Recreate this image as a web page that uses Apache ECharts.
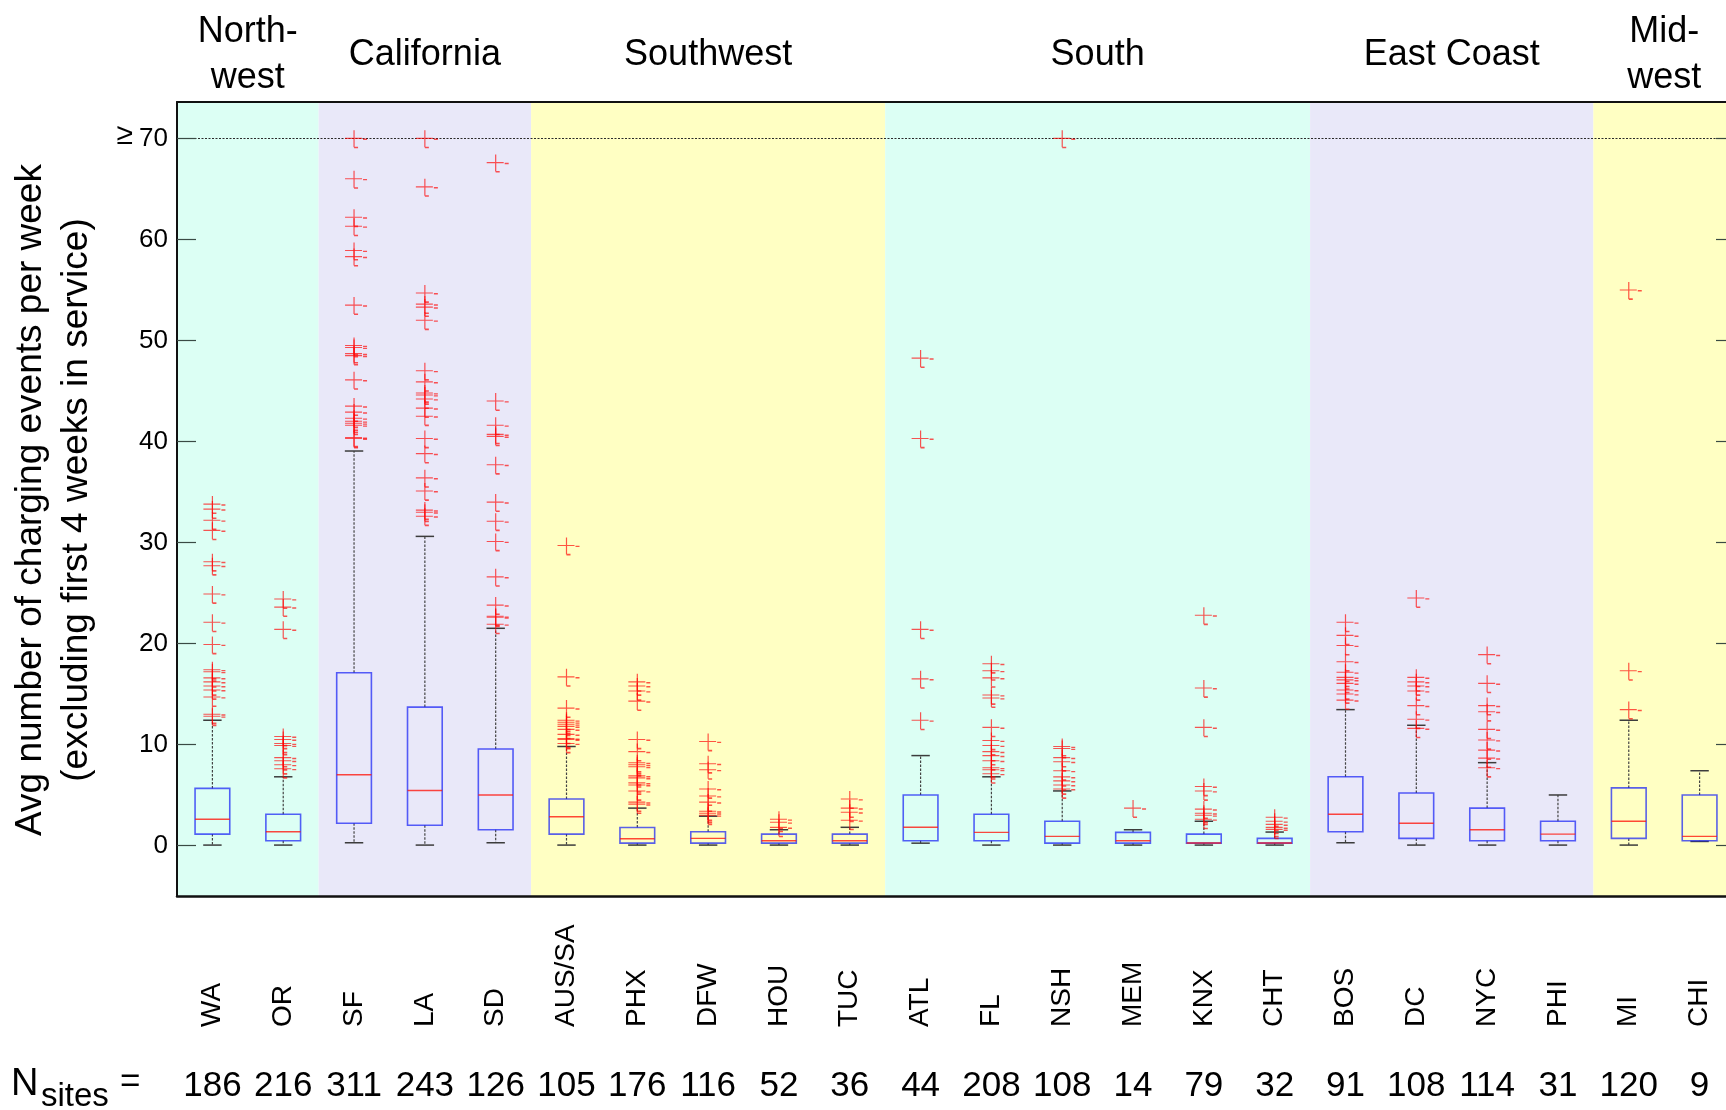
<!DOCTYPE html>
<html>
<head>
<meta charset="utf-8">
<title>Charging events per week by metro area</title>
<script src="https://cdn.jsdelivr.net/npm/echarts@6/dist/echarts.min.js"></script>
<style>
  html, body { margin: 0; padding: 0; background: #fff; }
  #chart { width: 1726px; height: 1110px; }
</style>
</head>
<body>
<div id="chart"></div>
<script>
// Metro areas, in plotting order
const sites = ['WA','OR','SF','LA','SD','AUS/SA','PHX','DFW','HOU','TUC','ATL','FL','NSH','MEM','KNX','CHT','BOS','DC','NYC','PHI','MI','CHI'];

// Number of sites per metro area
const siteCounts = [186,216,311,243,126,105,176,116,52,36,44,208,108,14,79,32,91,108,114,31,120,9];

// Box statistics per area: [lower whisker, Q1, median, Q3, upper whisker]
const boxWA  = [0.04, 1.13, 2.6, 5.65, 12.4];
const boxOR  = [0.04, 0.47, 1.36, 3.1, 6.8];
const boxSF  = [0.27, 2.2, 7.0, 17.1, 39.05];
const boxLA  = [0.04, 2.0, 5.45, 13.7, 30.6];
const boxSD  = [0.27, 1.56, 5.0, 9.55, 21.5];
const boxAUS = [0.04, 1.13, 2.85, 4.6, 9.8];
const boxPHX = [0.04, 0.23, 0.66, 1.78, 3.7];
const boxDFW = [0.04, 0.23, 0.7, 1.36, 2.9];
const boxHOU = [0.04, 0.23, 0.47, 1.13, 1.56];
const boxTUC = [0.04, 0.23, 0.47, 1.13, 1.8];
const boxATL = [0.23, 0.47, 1.8, 5.0, 8.9];
const boxFL  = [0.04, 0.47, 1.3, 3.1, 6.8];
const boxNSH = [0.04, 0.23, 0.9, 2.4, 5.4];
const boxMEM = [0.04, 0.23, 0.47, 1.3, 1.56];
const boxKNX = [0.04, 0.23, 0.25, 1.13, 2.4];
const boxCHT = [0.04, 0.23, 0.25, 0.7, 1.33];
const boxBOS = [0.27, 1.36, 3.1, 6.8, 13.45];
const boxDC  = [0.04, 0.7, 2.2, 5.2, 11.9];
const boxNYC = [0.04, 0.47, 1.56, 3.7, 8.2];
const boxPHI = [0.04, 0.47, 1.13, 2.4, 5.0];
const boxMI  = [0.04, 0.7, 2.4, 5.7, 12.4];
const boxCHI = [0.4, 0.47, 0.9, 5.0, 7.4];

// Outliers per area (values of 70 and above are drawn at 70)
const outWA  = [33.8, 33.3, 32.2, 31.2, 28.1, 27.7, 24.9, 22.1, 19.9, 17.4, 17.2, 16.6, 16.2, 15.8, 15.4, 14.7, 13.0, 12.8];
const outOR  = [24.4, 23.6, 21.4, 10.8, 10.5, 10.1, 9.9, 8.7, 8.4, 8.0, 7.6];
const outSF  = [70, 66.0, 62.2, 61.3, 58.9, 58.3, 53.5, 49.5, 49.3, 48.7, 48.5, 46.1, 43.5, 42.9, 42.3, 42.0, 41.8, 41.6, 40.4, 40.3];
const outLA  = [70, 65.2, 54.7, 53.6, 53.3, 52.0, 47.0, 45.9, 44.8, 44.6, 44.2, 43.3, 42.5, 40.3, 38.8, 36.4, 35.1, 33.2, 33.0, 32.6];
const outSD  = [67.6, 44.0, 41.6, 40.7, 40.5, 37.7, 34.0, 32.1, 30.1, 26.6, 23.8, 22.7, 22.6, 21.9];
const outAUS = [29.7, 16.7, 13.6, 12.4, 12.2, 12.0, 11.8, 11.5, 11.0, 10.6, 10.5, 10.1];
const outPHX = [16.2, 15.8, 15.3, 14.3, 10.5, 9.3, 8.2, 8.0, 7.8, 6.9, 6.7, 6.2, 6.0, 5.4, 4.3, 4.1];
const outDFW = [10.3, 8.1, 7.5, 5.6, 4.9, 4.3, 3.4, 3.2, 3.0];
const outHOU = [2.6, 2.3, 1.8];
const outTUC = [4.6, 3.7, 3.3, 2.5];
const outATL = [48.25, 40.3, 21.4, 16.5, 12.4];
const outFL  = [18.0, 17.3, 16.6, 14.9, 14.6, 11.7, 10.4, 9.9, 9.3, 8.9, 8.4, 7.7, 7.5, 7.1];
const outNSH = [70, 9.8, 9.6, 8.7, 8.3, 7.4, 6.8, 6.4, 6.0, 5.6];
const outMEM = [3.7];
const outKNX = [22.8, 15.6, 11.7, 5.85, 5.4, 3.6, 3.2, 3.0, 2.6];
const outCHT = [2.8, 2.4, 2.1, 1.8, 1.6];
const outBOS = [22.1, 20.8, 19.8, 18.2, 17.15, 16.65, 16.4, 16.05, 15.4, 15.0, 14.4];
const outDC  = [24.5, 16.65, 16.2, 15.8, 15.3, 13.85, 12.5, 11.6];
const outNYC = [18.9, 16.05, 13.85, 13.25, 11.5, 10.45, 9.45, 8.65, 7.7];
const outPHI = [];
const outMI  = [55.0, 17.3, 13.45];
const outCHI = [];

// Y-axis tick values; the top one reads "≥70"
const yTicks = [0, 10, 20, 30, 40, 50, 60, 70];
const capValue = 70;

// Regions grouping the areas
const regionNames = ['North-\nwest', 'California', 'Southwest', 'South', 'East Coast', 'Mid-\nwest'];
const regionFirst = ['WA', 'SF', 'AUS/SA', 'ATL', 'BOS', 'MI'];
const regionLast  = ['OR', 'SD', 'TUC', 'CHT', 'PHI', 'CHI'];

// ---- assembly ----
const boxStats = [boxWA, boxOR, boxSF, boxLA, boxSD, boxAUS, boxPHX, boxDFW, boxHOU, boxTUC,
  boxATL, boxFL, boxNSH, boxMEM, boxKNX, boxCHT, boxBOS, boxDC, boxNYC, boxPHI, boxMI, boxCHI];
const outliers = [outWA, outOR, outSF, outLA, outSD, outAUS, outPHX, outDFW, outHOU, outTUC,
  outATL, outFL, outNSH, outMEM, outKNX, outCHT, outBOS, outDC, outNYC, outPHI, outMI, outCHI];

const boxData = boxStats.map((s, i) => [i].concat(s));
const outlierData = [];
outliers.forEach((vals, i) => vals.forEach(v => outlierData.push([i, v])));
const regionData = regionNames.map((n, i) => [sites.indexOf(regionFirst[i]), sites.indexOf(regionLast[i])]);

const FONT = '"Liberation Sans", Arial, Helvetica, sans-serif';
const bandFills = ['#dcfff4', '#e9e8f9', '#ffffc3', '#dcfff4', '#e9e8f9', '#ffffc3'];

// Cross-shaped outlier marker (with the little offset dashes of the original renderer)
const plusPath = 'path://M0,7.5H17V8.6H0Z M8.4,0H9.6V17H8.4Z M18,8.2H22V9.6H18Z M9,16.4H13V18H9Z';

const chart = echarts.init(document.getElementById('chart'), null, { renderer: 'canvas' });

const option = {
  animation: false,
  backgroundColor: '#ffffff',
  textStyle: { fontFamily: FONT },
  grid: {
    left: 177, top: 102, width: 1558, height: 794,
    containLabel: false, outerBoundsMode: 'none'
  },
  xAxis: [
    {
      type: 'category', data: sites, position: 'bottom', boundaryGap: true, z: 10,
      axisLine: { show: true, onZero: false, lineStyle: { color: '#111', width: 2.5 } },
      axisTick: { show: false },
      splitLine: { show: false },
      axisLabel: {
        interval: 0, rotate: 90, align: 'left', verticalAlign: 'middle',
        margin: 131, fontSize: 28, color: '#000', fontFamily: FONT, hideOverlap: false
      }
    },
    {
      type: 'category', data: siteCounts.map(String), position: 'bottom', boundaryGap: true,
      axisLine: { show: false, onZero: false }, axisTick: { show: false }, splitLine: { show: false },
      axisLabel: {
        interval: 0, margin: 190, verticalAlign: 'middle', fontSize: 35,
        color: '#000', fontFamily: FONT, hideOverlap: false
      }
    },
    {
      type: 'category', data: sites, position: 'top', boundaryGap: true, z: 10,
      axisLine: { show: true, onZero: false, lineStyle: { color: '#111', width: 2 } },
      axisTick: { show: false }, axisLabel: { show: false }, splitLine: { show: false }
    }
  ],
  yAxis: [
    {
      type: 'value', min: -5, max: 73.6, position: 'left', z: 10,
      axisLine: { show: true, onZero: false, lineStyle: { color: '#111', width: 2 } },
      axisTick: { show: true, inside: true, length: 19, customValues: yTicks, lineStyle: { color: '#3a4a44', width: 1.2 } },
      splitLine: { show: false },
      axisLabel: {
        customValues: yTicks, margin: 9, fontSize: 26, color: '#000', fontFamily: FONT,
        formatter: v => v === capValue ? '{ge|≥}{num|' + v + '}' : String(v),
        rich: {
          ge: { fontSize: 30, padding: [0, 6, 6, 0], fontFamily: FONT, fontWeight: 'lighter', color: '#000' },
          num: { fontSize: 26, fontFamily: FONT, color: '#000' }
        }
      }
    },
    {
      type: 'value', min: -5, max: 73.6, position: 'right', z: 10,
      axisLine: { show: false, onZero: false },
      axisTick: { show: true, inside: true, length: 19, customValues: yTicks, lineStyle: { color: '#3a4a44', width: 1.2 } },
      splitLine: { show: false },
      axisLabel: { show: false }
    }
  ],
  graphic: [
    {
      type: 'text', x: 31, y: 500, rotation: Math.PI / 2,
      style: { text: 'Avg number of charging events per week', fontSize: 37, fontFamily: FONT,
        fill: '#000', textAlign: 'center', textVerticalAlign: 'middle' }
    },
    {
      type: 'text', x: 77, y: 500, rotation: Math.PI / 2,
      style: { text: '(excluding first 4 weeks in service)', fontSize: 37, fontFamily: FONT,
        fill: '#000', textAlign: 'center', textVerticalAlign: 'middle' }
    },
    {
      type: 'text', x: 11, y: 1085,
      style: { text: 'N', fontSize: 38, fontFamily: FONT, fill: '#000', textAlign: 'left', textVerticalAlign: 'middle' }
    },
    {
      type: 'text', x: 41, y: 1097,
      style: { text: 'sites', fontSize: 33, fontFamily: FONT, fill: '#000', textAlign: 'left', textVerticalAlign: 'middle' }
    },
    {
      type: 'text', x: 120, y: 1082,
      style: { text: '=', fontSize: 35, fontFamily: FONT, fill: '#000', textAlign: 'left', textVerticalAlign: 'middle' }
    }
  ],
  series: [
    {
      // Shaded region bands with their names above the plot
      type: 'custom', name: 'regions', xAxisIndex: 0, yAxisIndex: 0, z: 0, silent: true, clip: false,
      data: regionData,
      encode: { x: [0, 1] },
      renderItem: function (params, api) {
        const band = api.size([1, 0])[0];
        const cs = params.coordSys;
        const xL = api.coord([api.value(0), 0])[0] - band / 2;
        const xR = api.coord([api.value(1), 0])[0] + band / 2;
        return {
          type: 'group',
          children: [
            { type: 'rect', shape: { x: xL, y: cs.y, width: xR - xL, height: cs.height },
              style: { fill: bandFills[params.dataIndex] } },
            { type: 'text', x: (xL + xR) / 2, y: cs.y - 47,
              style: { text: regionNames[params.dataIndex], fontSize: 36, fontFamily: FONT, fill: '#000',
                textAlign: 'center', textVerticalAlign: 'middle', lineHeight: 46 } }
          ]
        };
      }
    },
    {
      // Boxes, medians and whiskers
      type: 'custom', name: 'boxes', xAxisIndex: 0, yAxisIndex: 0, z: 2, silent: true,
      data: boxData,
      encode: { x: 0, y: [1, 2, 3, 4, 5] },
      renderItem: function (params, api) {
        const i = api.value(0);
        const band = api.size([1, 0])[0];
        const cx = api.coord([i, 0])[0];
        const y = v => api.coord([i, v])[1];
        const lo = y(api.value(1)), q1 = y(api.value(2)), med = y(api.value(3)),
              q3 = y(api.value(4)), hi = y(api.value(5));
        const hb = band * 0.245, hc = band * 0.13;
        const whisk = { stroke: '#444', lineWidth: 1.2, lineDash: [2.5, 1.5] };
        const cap = { stroke: '#3c3c3c', lineWidth: 1.5 };
        return {
          type: 'group',
          children: [
            { type: 'line', shape: { x1: cx, y1: q3, x2: cx, y2: hi }, style: whisk },
            { type: 'line', shape: { x1: cx, y1: q1, x2: cx, y2: lo }, style: whisk },
            { type: 'line', shape: { x1: cx - hc, y1: hi, x2: cx + hc, y2: hi }, style: cap },
            { type: 'line', shape: { x1: cx - hc, y1: lo, x2: cx + hc, y2: lo }, style: cap },
            { type: 'rect', shape: { x: cx - hb, y: q3, width: 2 * hb, height: q1 - q3 },
              style: { fill: 'none', stroke: 'rgba(25,35,245,0.72)', lineWidth: 1.6 } },
            { type: 'line', shape: { x1: cx - hb, y1: med, x2: cx + hb, y2: med },
              style: { stroke: 'rgba(255,20,10,0.78)', lineWidth: 1.4 } }
          ]
        };
      }
    },
    {
      // Outliers
      type: 'scatter', name: 'outliers', xAxisIndex: 0, yAxisIndex: 0, z: 3, silent: true,
      data: outlierData,
      symbol: plusPath, symbolSize: [22, 18], symbolOffset: [2, 1],
      itemStyle: { color: 'rgba(255,0,0,0.84)' },
      markLine: {
        silent: true, symbol: 'none', label: { show: false }, z: 1,
        lineStyle: { color: '#2a2a2a', type: [2, 1.5], width: 1.2 },
        data: [{ yAxis: capValue }]
      }
    }
  ]
};

chart.setOption(option);
</script>
</body>
</html>
